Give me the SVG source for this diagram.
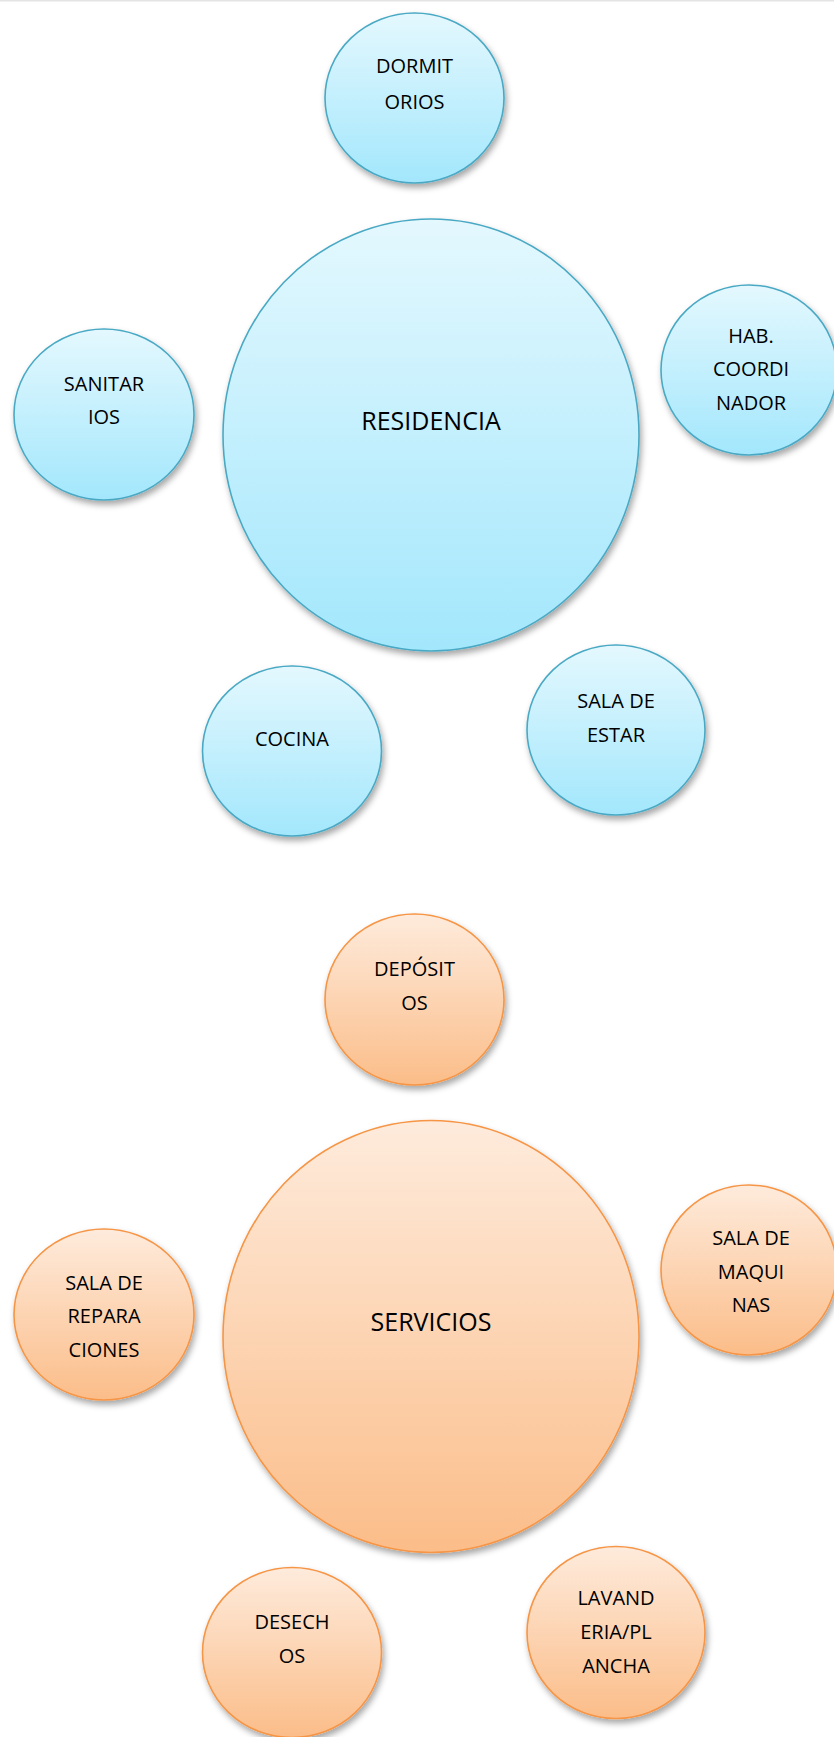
<svg xmlns="http://www.w3.org/2000/svg" width="834" height="1737" viewBox="0 0 834 1737">
  <defs>
    <linearGradient id="gradBlue" x1="0" y1="0" x2="0" y2="1">
      <stop offset="0" stop-color="#e4f8fe"/>
      <stop offset="1" stop-color="#a3e7fc"/>
    </linearGradient>
    <linearGradient id="gradOrange" x1="0" y1="0" x2="0" y2="1">
      <stop offset="0" stop-color="#feebdc"/>
      <stop offset="1" stop-color="#fbbd89"/>
    </linearGradient>
    <filter id="shadow" x="-20%" y="-20%" width="140%" height="140%">
      <feDropShadow dx="2" dy="4" stdDeviation="3" flood-color="#000" flood-opacity="0.35"/>
    </filter>
  </defs>
  <style>
    .blue { fill: url(#gradBlue); stroke: #4aa9c4; stroke-width: 1.6; filter: url(#shadow); }
    .orange { fill: url(#gradOrange); stroke: #f69545; stroke-width: 1.6; filter: url(#shadow); }
    text { font-family: "Open Sans", "Liberation Sans", sans-serif; fill: #000; text-anchor: middle; }
    .sm { font-size: 20px; }
    .lg { font-size: 25px; }
  </style>

  <rect x="0" y="0" width="834" height="1.5" fill="#e4e4e4"/>

  <!-- Residencia cluster -->
  <g id="dormitorios">
    <ellipse class="blue" cx="414.5" cy="98" rx="89.5" ry="85"/>
    <text class="sm" x="414.5" y="73">DORMIT</text>
    <text class="sm" x="414.5" y="109">ORIOS</text>
  </g>
  <g id="residencia">
    <ellipse class="blue" cx="431" cy="435" rx="208" ry="216"/>
    <text class="lg" x="431" y="430">RESIDENCIA</text>
  </g>
  <g id="hab-coordinador">
    <ellipse class="blue" cx="749" cy="370" rx="88" ry="85"/>
    <text class="sm" x="751" y="343">HAB.</text>
    <text class="sm" x="751" y="376">COORDI</text>
    <text class="sm" x="751" y="410">NADOR</text>
  </g>
  <g id="sanitarios">
    <ellipse class="blue" cx="104" cy="414.5" rx="90" ry="85.5"/>
    <text class="sm" x="104" y="391">SANITAR</text>
    <text class="sm" x="104" y="424">IOS</text>
  </g>
  <g id="cocina">
    <ellipse class="blue" cx="292" cy="751" rx="89.5" ry="85"/>
    <text class="sm" x="292" y="746">COCINA</text>
  </g>
  <g id="sala-de-estar">
    <ellipse class="blue" cx="616" cy="730" rx="89" ry="85"/>
    <text class="sm" x="616" y="708">SALA DE</text>
    <text class="sm" x="616" y="742">ESTAR</text>
  </g>

  <!-- Servicios cluster -->
  <g id="depositos">
    <ellipse class="orange" cx="414.5" cy="999.5" rx="89.5" ry="85.5"/>
    <text class="sm" x="414.5" y="976">DEPÓSIT</text>
    <text class="sm" x="414.5" y="1010">OS</text>
  </g>
  <g id="servicios">
    <ellipse class="orange" cx="431" cy="1336.5" rx="208" ry="216"/>
    <text class="lg" x="431" y="1331">SERVICIOS</text>
  </g>
  <g id="sala-de-maquinas">
    <ellipse class="orange" cx="749" cy="1270" rx="88" ry="85"/>
    <text class="sm" x="751" y="1245">SALA DE</text>
    <text class="sm" x="751" y="1279">MAQUI</text>
    <text class="sm" x="751" y="1312">NAS</text>
  </g>
  <g id="sala-de-reparaciones">
    <ellipse class="orange" cx="104" cy="1314.5" rx="90" ry="85.5"/>
    <text class="sm" x="104" y="1290">SALA DE</text>
    <text class="sm" x="104" y="1323">REPARA</text>
    <text class="sm" x="104" y="1357">CIONES</text>
  </g>
  <g id="desechos">
    <ellipse class="orange" cx="292" cy="1652.5" rx="89.5" ry="85"/>
    <text class="sm" x="292" y="1629">DESECH</text>
    <text class="sm" x="292" y="1663">OS</text>
  </g>
  <g id="lavanderia-plancha">
    <ellipse class="orange" cx="616" cy="1632.5" rx="89" ry="86"/>
    <text class="sm" x="616" y="1605">LAVAND</text>
    <text class="sm" x="616" y="1639">ERIA/PL</text>
    <text class="sm" x="616" y="1673">ANCHA</text>
  </g>
</svg>
